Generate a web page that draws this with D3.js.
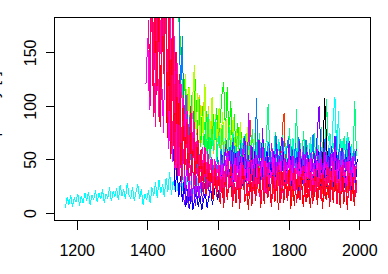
<!DOCTYPE html>
<html>
<head>
<meta charset="utf-8">
<script src="https://cdn.jsdelivr.net/npm/d3@7"></script>
<style>
  body { margin: 0; background: #fff; }
  text { font-family: "Liberation Sans", Arial, sans-serif; }
</style>
</head>
<body>
<script>
// every series is sampled every 5 units on x, starting at its own x
var step = 5;

var blackLine = [28,35,22,40,31,26,38,24,33,45,29,55,107,68,36,27,42,30,25,37,32,44,28,35,23,39,30,26,41,33,29];
var orangeRed = [18,34,15,38,22,42,16,31,87,36,20,40,24,17,35,45,15,33,21,41,
  30,18,37,23,44,16,80,93,34,20,39,25,15,43,22,36,19,47,31,17,
  38,23,33,15,42,21,35,24,46,18,37,25,16,40,27,20,44,22,34,15,
  39,24,36,19,41,26,18,38,25];
var orange = [80,110,65,95,113,72,100,60,92,55,88,52,80,48,72,45,68,42,62,40,58,38,52];
var chartreuse = [130,80,118,70,105,138,75,112,65,100,72,120,62,96,70,108,60,92,66,98,
  62,94,56,88,52,82,60,90,48,78,55,85,45,72,52,80,44,68,50,75,42,64,48,60];
var green = [190,174,143,100,125,80,118,70,110,75,125,68,108,62,100,58,95,55,88,60,92,65,98,70,
  85,110,122,75,118,68,105,60,92,55,84,50,76,45,70,40,64,38,60,35,56,42,48,36,58,40,52,34,49,38,55,36];
var springGreen = [85,55,92,50,78,58,88,48,75,55,82,46,70,52,80,50,76,47,68,72,
  46,70,43,74,50,66,44,78,48,69,42,75,51,67,45,72,102,49,64,47,
  76,44,68,52,73,46,65,43,79,50,70,45,97,48,66,44,77,51,63,46,
  71,43,75,49,68,45,80,52,44,106,67,74,47,65,50,78,43,69,48,72,
  45,76,50,64,47,105,53];
var cyanLate = [42,60,38,55,64,44,58,40,67,46,57,39,62,48,69,41,56,45,63,38,
  59,47,70,40,61,44,66,39,57,48,64,42,68,38,60,45,72,41,63,47,
  40,65,44,75,46,90,108,52,95,43,67,39,62,72,41,63,46,60,44];
var azure = [200,110,165,75,110,60,90,45,75,38,62,32,55,28,50,25,44,30,50,26,46,35,52,
  38,60,35,55,68,40,62,37,70,42,58,36,65,44,72,39,57,41,63,36,
  45,107,38,61,43,69,35,59,66,40,56,44,73,37,60,42,67,35,58,70,
  41,62,38,65,44,71,36,57,43,68,39,60,45,74,37,63,40,58,42,66,
  70,38,61,44,59,36,72,41,64,39,57,43,67,35,62,40,58,45];
var cyanEarly = [5,15,8,17,6,14,10,18,7,16,9,19,11,20,8,17,12,21,10,
  19,13,22,9,18,14,24,11,20,15,23,12,26,16,22,13,28,17,
  14,24,11,20,27,13,22,8,18,12,21,9,24,16,29,14,31,19,27,15,
  33,20,38,17,30,22,36,15,28,20,34,18,37,21,30,14,29,19,33,16,28,20];
var blue = [60,20,45,15,35,10,30,6,22,4,18,3,14,20,6,16,3,12,19,5,15,25,8,18,28,12,24,
  26,46,21,42,53,24,48,28,56,22,44,50,25,55,29,47,20,52,27,58,
  23,45,30,51,21,49,57,24,46,28,54,22,43,50,26,57,20,48,29,53,
  25,44,30,52,21,56,27,47,23,55,28,45,20,51,26,58,24,48,30,43,
  22,53,27,46,21,57,29,49,25,44,23,52,28,56,20,47,26,50];
var violet = [18,8,26,5,22,10,30,7,25,14,33,10,28,16,36,14,32,22,40,20,38,
  35,55,40,62,34,58,42,66,36,52,38,60,33,56,70,37,54,41,63,35,
  57,39,68,34,79,40,53,36,61,42,58,33,65,38,55,71,35,50,41,64,
  37,59,32,52,40,67,36,56,42,62,34,53,39,58,45,75,100,60,38,66,
  41,54,35,63,43,72,37,57,33,61,40,55,36,67,42,52,38,60];
var purple = [90,35,75,25,60,20,50,15,45,12,38,18,42,14,35,22,40,16,33,24,45,28,48,26,40,
  32,52,29,48,60,34,46,30,55,36,58,31,50,63,35,29,93,51,38,33,
  57,30,49,36,62,28,53,34,47,65,31,55,37,50,29,59,33,48,36,61,
  30,54,35,49,28,57,32,63,34,51,29,56,38,47,31,60,33,52,28,58,
  36,49,30,55,34,62,29,50,37,57,32,48,35,59,30,53,33,46];
var magenta = [120,163,96,200,140,100,230,90,180,120,75,210,140,60,190,48,165,40,140,35,120,
  90,55,110,48,85,42,95,40,70,45,38,62,40,33,58,36,52,30,50,34,48,
  26,46,22,41,52,27,40,24,49,29,44,21,52,26,42,25,48,28,39,50,
  23,45,27,40,51,20,47,25,43,30,52,24,39,28,49,22,44,26,41,50,
  29,42,21,48,25,51,27,40,23,46,30,52,24,43,20,49,28,39,23,48,
  26,44,22,51,29,41,24,47,21,50,27,38,25,49,23,45,28,42];
var pink = [180,100,250,130,80,220,150,90,210,120,240,75,170,55,195,42,150,35,120,30,
  110,48,95,42,100,40,85,36,70,45,58,32,62,28,55,25,50,22,48,20,45,
  20,42,17,38,50,23,36,16,45,21,40,18,48,24,35,19,44,52,17,39,
  22,46,15,37,25,49,18,41,21,36,47,16,43,24,38,19,51,20,35,23,
  45,17,40,22,48,15,37,25,44,18,50,21,36,16,42,24,47,19,38,23,
  46,17,41,20,49,22,35,18,43,25,39,16,48,21,37,24,44,19];
var red = [240,110,210,80,190,130,250,70,170,50,200,45,150,35,130,30,100,
  40,85,30,75,35,70,25,62,28,55,20,50,18,45,24,40,12,38,15,35,
  8,30,5,36,12,27,40,6,24,9,33,4,28,38,10,22,3,31,7,35,
  11,26,42,5,29,8,34,14,25,6,37,10,30,3,23,39,9,27,12,41,
  4,28,7,32,13,24,36,6,29,10,33,5,26,11,38,8,22,35,4,30,
  12,27,6,39,9,31,14,25,5,34,8,28,3,36,11,24,7,30];
var redPink = [150,230,90,210,110,260,80,195,130,240,90,200,65,180,50,150,40,120,35,
  100,45,85,38,95,40,70,32,78,28,60,30,55,22,48,26,42,18,45,20,38,
  12,34,9,40,15,30,44,10,28,13,38,8,32,45,11,27,16,36,9,42,
  14,29,39,10,33,12,43,15,28,8,37,13,31,45,9,26,16,40,11,34,
  14,30,42,9,35,12,28,44,10,31,15,38,8,27,41,13,33,11,36,16,
  29,43,10,32,14,39,8,30,12,45,15,28,9,37,11,34,13,31];

// drawing order, first one ends up underneath
var seriesValues = [orangeRed, orange, green, chartreuse, springGreen, cyanLate, azure, blackLine,
  cyanEarly, blue, violet, purple, magenta, pink, red, redPink];
var seriesStart = [1652, 1543, 1486, 1508, 1562, 1701, 1489, 1842,
  1168, 1474, 1501, 1482, 1396, 1403, 1421, 1407];
var seriesColor = ["#ff3300", "#ffbf00", "#00ff00", "#b3ff00", "#00ff80", "#00ffff", "#0080ff", "#000000",
  "#00ffff", "#0000ff", "#7f00ff", "#cc00ff", "#ff00ff", "#ff0099", "#ff0000", "#ff0040"];

var xTicks = [1200, 1400, 1600, 1800, 2000];
var yTicks = [0, 50, 100, 150];
var yTitle = "Frequency [-]";

var W = 388, H = 274;
var pLeft = 54, pRight = 370, pTop = 17, pBottom = 220;

var x = d3.scaleLinear().domain([1135.7, 2030.2]).range([pLeft, pRight]);
var y = d3.scaleLinear().domain([-6.5, 183]).range([pBottom, pTop]);

var svg = d3.select("body").append("svg").attr("width", W).attr("height", H);

svg.append("clipPath").attr("id", "plotclip")
  .append("rect").attr("x", pLeft).attr("y", pTop)
  .attr("width", pRight - pLeft + 1).attr("height", pBottom - pTop + 1);

var line = d3.line();
var g = svg.append("g").attr("clip-path", "url(#plotclip)");

seriesValues.forEach(function(vals, k) {
  var pts = vals.map(function(v, i) { return [x(seriesStart[k] + i * step), y(v)]; });
  g.append("path")
    .attr("d", line(pts))
    .attr("fill", "none")
    .attr("stroke", seriesColor[k])
    .attr("stroke-width", 1)
    .style("shape-rendering", "crispEdges");
});

// box
svg.append("rect")
  .attr("x", pLeft + 0.5).attr("y", pTop + 0.5)
  .attr("width", pRight - pLeft).attr("height", pBottom - pTop)
  .attr("fill", "none").attr("stroke", "#000").style("shape-rendering", "crispEdges");

// axes
var xAxis = d3.axisBottom(x).tickValues(xTicks).tickSize(9).tickFormat(d3.format("d"));
var gx = svg.append("g").attr("transform", "translate(0," + (pBottom + 0.5) + ")").call(xAxis);
gx.select(".domain").remove();
gx.selectAll("line").style("shape-rendering", "crispEdges");
gx.selectAll("text").attr("y", 35).attr("dy", null)
  .style("font-size", "16px").style("font-family", "'Liberation Sans', Arial, sans-serif").attr("fill", "#000");

var yAxis = d3.axisLeft(y).tickValues(yTicks).tickSize(9).tickFormat(d3.format("d"));
var gy = svg.append("g").attr("transform", "translate(" + (pLeft + 0.5) + ",0)").call(yAxis);
gy.select(".domain").remove();
gy.selectAll("line").style("shape-rendering", "crispEdges");
gy.selectAll("text")
  .attr("x", null).attr("dy", null)
  .attr("text-anchor", "middle")
  .attr("transform", "translate(-19,0) rotate(-90)")
  .style("font-size", "16px").style("font-family", "'Liberation Sans', Arial, sans-serif").attr("fill", "#000");

// axis title sits mostly left of the page, as in the original
svg.append("text")
  .attr("transform", "translate(-1.5," + ((pTop + pBottom) / 2) + ") rotate(-90)")
  .attr("text-anchor", "middle")
  .style("font-size", "16px")
  .text(yTitle);
</script>
</body>
</html>
